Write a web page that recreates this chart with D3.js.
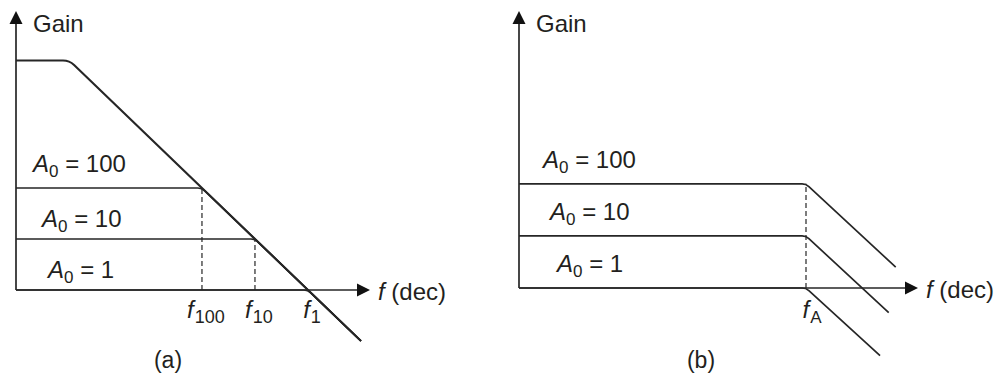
<!DOCTYPE html>
<html>
<head>
<meta charset="utf-8">
<script src="https://cdn.jsdelivr.net/npm/d3@7"></script>
<style>
  body { margin: 0; background: #fff; }
  svg { display: block; }
  text { font-family: "Liberation Sans", Arial, Helvetica, sans-serif; fill: #231f20; }
</style>
</head>
<body>
<svg id="chart" width="1000" height="376"></svg>
<script>
// Closed-loop gain settings, in dB (A0 = 1, 10, 100)
const closedGainDb = [0, 20, 40];
const closedGainLabel = ["1", "10", "100"];

// (a) constant gain-bandwidth product
const openLoopGainDb = 90;
const openLoopCornerHz = 31.6;
const cornerFreqA = [1e6, 1e5, 1e4];          // f1, f10, f100
const cornerLabelA = ["1", "10", "100"];
const rollOffEndFreqA = 1e7;
const rollOffEndGainA = -20;

// (b) same corner frequency fA for every gain
const cornerFreqB = 1e6;
const cornerLabelB = "A";
const rollOffEndFreqB = [2.1e7, 3.0e7, 4.0e7];
const rollOffEndGainB = [-26, -9.5, 8];

const ink = "#262626";
const svg = d3.select("#chart");

// Horizontal run, rounded knee, then straight roll-off
function kneePath(pts, radius) {
  const p = d3.path();
  p.moveTo(pts[0][0], pts[0][1]);
  p.arcTo(pts[1][0], pts[1][1], pts[2][0], pts[2][1], radius);
  p.lineTo(pts[2][0], pts[2][1]);
  return p.toString();
}

function drawAxes(g, x, y) {
  const [x0, x1] = x.range();
  const [y0, y1] = y.range();
  g.append("line").attr("x1", x0).attr("y1", y0).attr("x2", x0).attr("y2", y1 + 10)
    .attr("stroke", ink).attr("stroke-width", 1.7);
  g.append("line").attr("x1", x0).attr("y1", y0).attr("x2", x1 - 10).attr("y2", y0)
    .attr("stroke", ink).attr("stroke-width", 1.7);
  g.append("path").attr("d", `M${x0},${y1 - 1}L${x0 - 6.5},${y1 + 12}L${x0 + 6.5},${y1 + 12}Z`).attr("fill", "#111");
  g.append("path").attr("d", `M${x1},${y0}L${x1 - 13},${y0 - 6.5}L${x1 - 13},${y0 + 6.5}Z`).attr("fill", "#111");
  g.append("text").attr("x", x0 + 17).attr("y", y1 + 20).attr("font-size", 24).text("Gain");
  const fl = g.append("text").attr("x", x1 + 8).attr("y", y0 + 10).attr("font-size", 24);
  fl.append("tspan").attr("font-style", "italic").text("f");
  fl.append("tspan").text(" (dec)");
}

function gainLabel(g, xPos, yPos, label) {
  const t = g.append("text").attr("x", xPos).attr("y", yPos).attr("font-size", 24);
  t.append("tspan").attr("font-style", "italic").text("A");
  t.append("tspan").attr("font-size", 17).attr("dy", 5).text("0");
  t.append("tspan").attr("dy", -5).text(" = " + label);
}

function freqLabel(g, xPos, yPos, sub, subSize) {
  const t = g.append("text").attr("x", xPos).attr("y", yPos).attr("font-size", 24)
    .attr("text-anchor", "middle");
  t.append("tspan").attr("font-style", "italic").text("f");
  t.append("tspan").attr("font-size", subSize).attr("dx", 1).attr("dy", 5).text(sub);
}

function dashed(g, xPos, yTop, yBottom) {
  g.append("line").attr("x1", xPos).attr("x2", xPos).attr("y1", yBottom).attr("y2", yTop)
    .attr("stroke", ink).attr("stroke-width", 1.2).attr("stroke-dasharray", "5,3");
}

// ---------- panel (a) ----------
{
  const x = d3.scaleLog().domain([3.1, 1.48e7]).range([16, 370]);
  const y = d3.scaleLinear().domain([0, 109]).range([290, 12]);
  const g = svg.append("g");
  const fMin = x.domain()[0];

  closedGainDb.forEach((gain, i) => dashed(g, x(cornerFreqA[i]), y(gain), y(0)));
  drawAxes(g, x, y);

  // open-loop response
  g.append("path")
    .attr("d", kneePath([[x(fMin), y(openLoopGainDb)], [x(openLoopCornerHz), y(openLoopGainDb)],
                         [x(rollOffEndFreqA), y(rollOffEndGainA)]], 16))
    .attr("fill", "none").attr("stroke", ink).attr("stroke-width", 2.1);

  // closed-loop responses
  closedGainDb.forEach((gain, i) => {
    g.append("path")
      .attr("d", kneePath([[x(fMin), y(gain)], [x(cornerFreqA[i]), y(gain)],
                           [x(rollOffEndFreqA), y(rollOffEndGainA)]], 10))
      .attr("fill", "none").attr("stroke", ink).attr("stroke-width", 1.7);
  });

  const labelX = [48, 42, 33];
  const labelLift = [12, 12, 16];
  closedGainDb.forEach((gain, i) => gainLabel(g, labelX[i], y(gain) - labelLift[i], closedGainLabel[i]));

  cornerFreqA.forEach((f, i) => freqLabel(g, x(f) + 4, y(0) + 28, cornerLabelA[i], 18));

  g.append("text").attr("x", 168).attr("y", 368).attr("font-size", 23)
    .attr("text-anchor", "middle").text("(a)");
}

// ---------- panel (b) ----------
{
  const x = d3.scaleLog().domain([7.5, 1e8]).range([519, 918]);
  const y = d3.scaleLinear().domain([0, 106]).range([288, 12]);
  const g = svg.append("g");
  const fMin = x.domain()[0];

  dashed(g, x(cornerFreqB), y(d3.max(closedGainDb)), y(0));
  drawAxes(g, x, y);

  closedGainDb.forEach((gain, i) => {
    g.append("path")
      .attr("d", kneePath([[x(fMin), y(gain)], [x(cornerFreqB), y(gain)],
                           [x(rollOffEndFreqB[i]), y(rollOffEndGainB[i])]], 10))
      .attr("fill", "none").attr("stroke", ink).attr("stroke-width", 1.7);
  });

  const labelX = [557, 550, 543];
  closedGainDb.forEach((gain, i) => gainLabel(g, labelX[i], y(gain) - 16, closedGainLabel[i]));

  freqLabel(g, x(cornerFreqB) + 6, y(0) + 30, cornerLabelB, 17);

  g.append("text").attr("x", 701).attr("y", 368).attr("font-size", 23)
    .attr("text-anchor", "middle").text("(b)");
}
</script>
</body>
</html>
